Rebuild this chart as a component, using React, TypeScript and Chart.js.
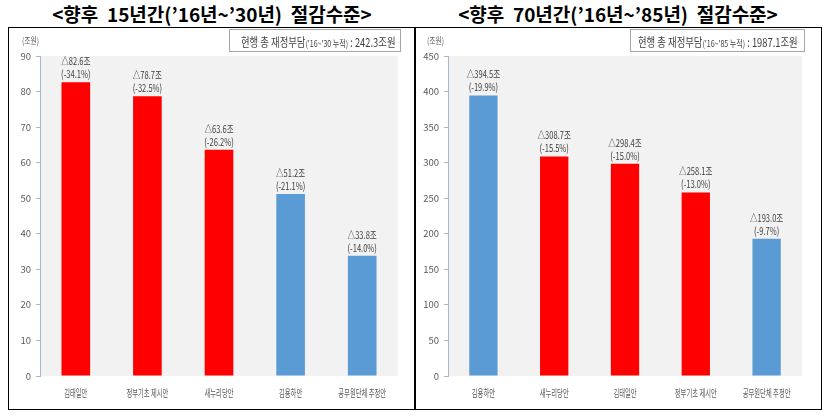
import { useEffect, useRef } from 'react';
import { Chart, registerables } from 'chart.js';

Chart.register(...registerables);

const FONT = "'Noto Sans CJK KR', 'Noto Sans', sans-serif";
const RED = '#FF0000';
const BLUE = '#5B9BD5';

// 향후 15년간 ('16~'30)
const categories15 = ['김태일안', '정부기초 제시안', '새누리당안', '김용하안', '공무원단체 추정안'];
const values15 = [82.6, 78.7, 63.6, 51.2, 33.8];
const rates15 = [-34.1, -32.5, -26.2, -21.1, -14.0];
const colors15 = [RED, RED, RED, BLUE, BLUE];
const yMax15 = 90;
const yStep15 = 10;

// 향후 70년간 ('16~'85)
const categories70 = ['김용하안', '새누리당안', '김태일안', '정부기초 제시안', '공무원단체 추정안'];
const values70 = [394.5, 308.7, 298.4, 258.1, 193.0];
const rates70 = [-19.9, -15.5, -15.0, -13.0, -9.7];
const colors70 = [BLUE, RED, RED, RED, BLUE];
const yMax70 = 450;
const yStep70 = 50;

// gray plot background
const plotBg = {
  id: 'plotBg',
  beforeDraw(chart: any) {
    const { ctx, chartArea: a } = chart;
    ctx.save();
    ctx.fillStyle = '#F2F2F2';
    ctx.fillRect(a.left, a.top, a.right - a.left, a.bottom - a.top);
    ctx.restore();
  },
};

// squeezed text helper (the source chart uses a narrow font)
function narrowText(ctx: CanvasRenderingContext2D, text: string, x: number, y: number, sx: number) {
  ctx.save();
  ctx.translate(x, y);
  ctx.scale(sx, 1);
  ctx.fillText(text, 0, 0);
  ctx.restore();
}

// value labels above bars + category labels under the axis
const barText = {
  id: 'barText',
  afterDatasetsDraw(chart: any) {
    const { ctx, chartArea } = chart;
    const meta = chart.getDatasetMeta(0);
    const values = chart.data.datasets[0].data as number[];
    const rates = chart.options.plugins.barText.rates as number[];
    const labels = chart.data.labels as string[];
    const xScale = chart.scales.x;

    ctx.save();
    ctx.fillStyle = '#404040';
    ctx.textAlign = 'center';
    ctx.textBaseline = 'alphabetic';
    ctx.font = `10.5px ${FONT}`;
    meta.data.forEach((bar: any, i: number) => {
      narrowText(ctx, `△${values[i].toFixed(1)}조`, bar.x, bar.y - 17, 0.72);
      narrowText(ctx, `(${rates[i].toFixed(1)}%)`, bar.x, bar.y - 4, 0.72);
    });

    ctx.fillStyle = '#595959';
    ctx.textBaseline = 'middle';
    ctx.font = `10.5px ${FONT}`;
    labels.forEach((lab, i) => {
      narrowText(ctx, lab, xScale.getPixelForValue(i), chartArea.bottom + 17, 0.6);
    });
    ctx.restore();
  },
};

interface PanelProps {
  left: number;
  title: string;
  categories: string[];
  values: number[];
  rates: number[];
  colors: string[];
  yMax: number;
  yStep: number;
  axisWidth: number;
  padRight: number;
  notePeriod: string;
  noteTotal: string;
  noteLeft: number;
  noteWidth: number;
  notePad: number;
  unitLeft: number;
}

const ChartPanel = ({
  left, title, categories, values, rates, colors, yMax, yStep,
  axisWidth, padRight, notePeriod, noteTotal, noteLeft, noteWidth, notePad, unitLeft,
}: PanelProps) => {
  const canvasRef = useRef<HTMLCanvasElement>(null);

  useEffect(() => {
    const canvas = canvasRef.current;
    if (!canvas) return;
    const ctx = canvas.getContext('2d');
    if (!ctx) return;

    const chart = new Chart(ctx, {
      type: 'bar',
      data: {
        labels: categories,
        datasets: [
          {
            data: values,
            backgroundColor: colors,
            borderWidth: 0,
            barPercentage: 0.4,
            categoryPercentage: 1,
          },
        ],
      },
      options: {
        animation: false,
        responsive: false,
        maintainAspectRatio: false,
        layout: { padding: { top: 28, right: padRight, bottom: 0, left: 0 } },
        plugins: {
          legend: { display: false },
          tooltip: { enabled: false },
          // @ts-ignore custom plugin options
          barText: { rates },
        },
        scales: {
          x: {
            grid: { display: false },
            border: { display: false },
            ticks: { display: false },
            afterFit: (s: any) => { s.height = 32; },
          },
          y: {
            min: 0,
            max: yMax,
            ticks: {
              stepSize: yStep,
              padding: 5,
              color: '#595959',
              font: { family: FONT, size: 9.5 },
            },
            grid: { drawOnChartArea: false, drawTicks: true, tickLength: 4, color: '#A9B7CC' },
            border: { display: true, color: '#A9B7CC' },
            afterFit: (s: any) => { s.width = axisWidth; },
          },
        },
      },
      plugins: [plotBg, barText],
    });

    return () => chart.destroy();
    // eslint-disable-next-line react-hooks/exhaustive-deps
  }, []);

  return (
    <>
      <div
        style={{
          position: 'absolute', left: left - 8, top: 0, width: 424, height: 27,
          textAlign: 'center', whiteSpace: 'pre', fontFamily: FONT, fontWeight: 700,
          fontSize: 19, lineHeight: '27px', color: '#000',
        }}
      >
        {title}
      </div>
      <div
        style={{
          position: 'absolute', left, top: 27, width: 408, height: 383,
          boxSizing: 'border-box', border: '1.5px solid #000',
        }}
      />
      <canvas
        ref={canvasRef}
        width={405}
        height={380}
        style={{ position: 'absolute', left: left + 1, top: 28, width: 405, height: 380 }}
      />
      <div
        style={{
          position: 'absolute', left: unitLeft, top: 34, fontFamily: FONT, fontSize: 9,
          color: '#595959', transform: 'scaleX(0.75)', transformOrigin: 'left center',
        }}
      >
        (조원)
      </div>
      <div
        style={{
          position: 'absolute', left: noteLeft, top: 29, width: noteWidth, height: 23,
          boxSizing: 'border-box', border: '1px solid #A6A6A6', background: '#fff',
          overflow: 'hidden', whiteSpace: 'nowrap',
        }}
      >
        <div
          style={{
            position: 'absolute', left: notePad, top: 0, lineHeight: '21px', fontFamily: FONT,
            color: '#404040', transform: 'scaleX(0.78)', transformOrigin: 'left center',
          }}
        >
          <span style={{ fontSize: 12 }}>현행 총 재정부담</span>
          <span style={{ fontSize: 9 }}>{notePeriod}</span>
          <span style={{ fontSize: 12 }}>{' : ' + noteTotal}</span>
        </div>
      </div>
    </>
  );
};

export default function App() {
  return (
    <div
      style={{
        position: 'absolute', left: 0, top: 0, width: 833, height: 419,
        background: '#fff', overflow: 'hidden',
      }}
    >
      <ChartPanel
        left={8}
        title={'<향후  15년간(’16년~’30년)  절감수준>'}
        categories={categories15}
        values={values15}
        rates={rates15}
        colors={colors15}
        yMax={yMax15}
        yStep={yStep15}
        axisWidth={31}
        padRight={16}
        notePeriod={"('16~'30 누적)"}
        noteTotal="242.3조원"
        noteLeft={229}
        noteWidth={172}
        notePad={11}
        unitLeft={22}
      />
      <ChartPanel
        left={414}
        title={'<향후  70년간(’16년~’85년)  절감수준>'}
        categories={categories70}
        values={values70}
        rates={rates70}
        colors={colors70}
        yMax={yMax70}
        yStep={yStep70}
        axisWidth={33}
        padRight={18}
        notePeriod={"('16~'85 누적)"}
        noteTotal="1987.1조원"
        noteLeft={630}
        noteWidth={175}
        notePad={7}
        unitLeft={427}
      />
    </div>
  );
}
